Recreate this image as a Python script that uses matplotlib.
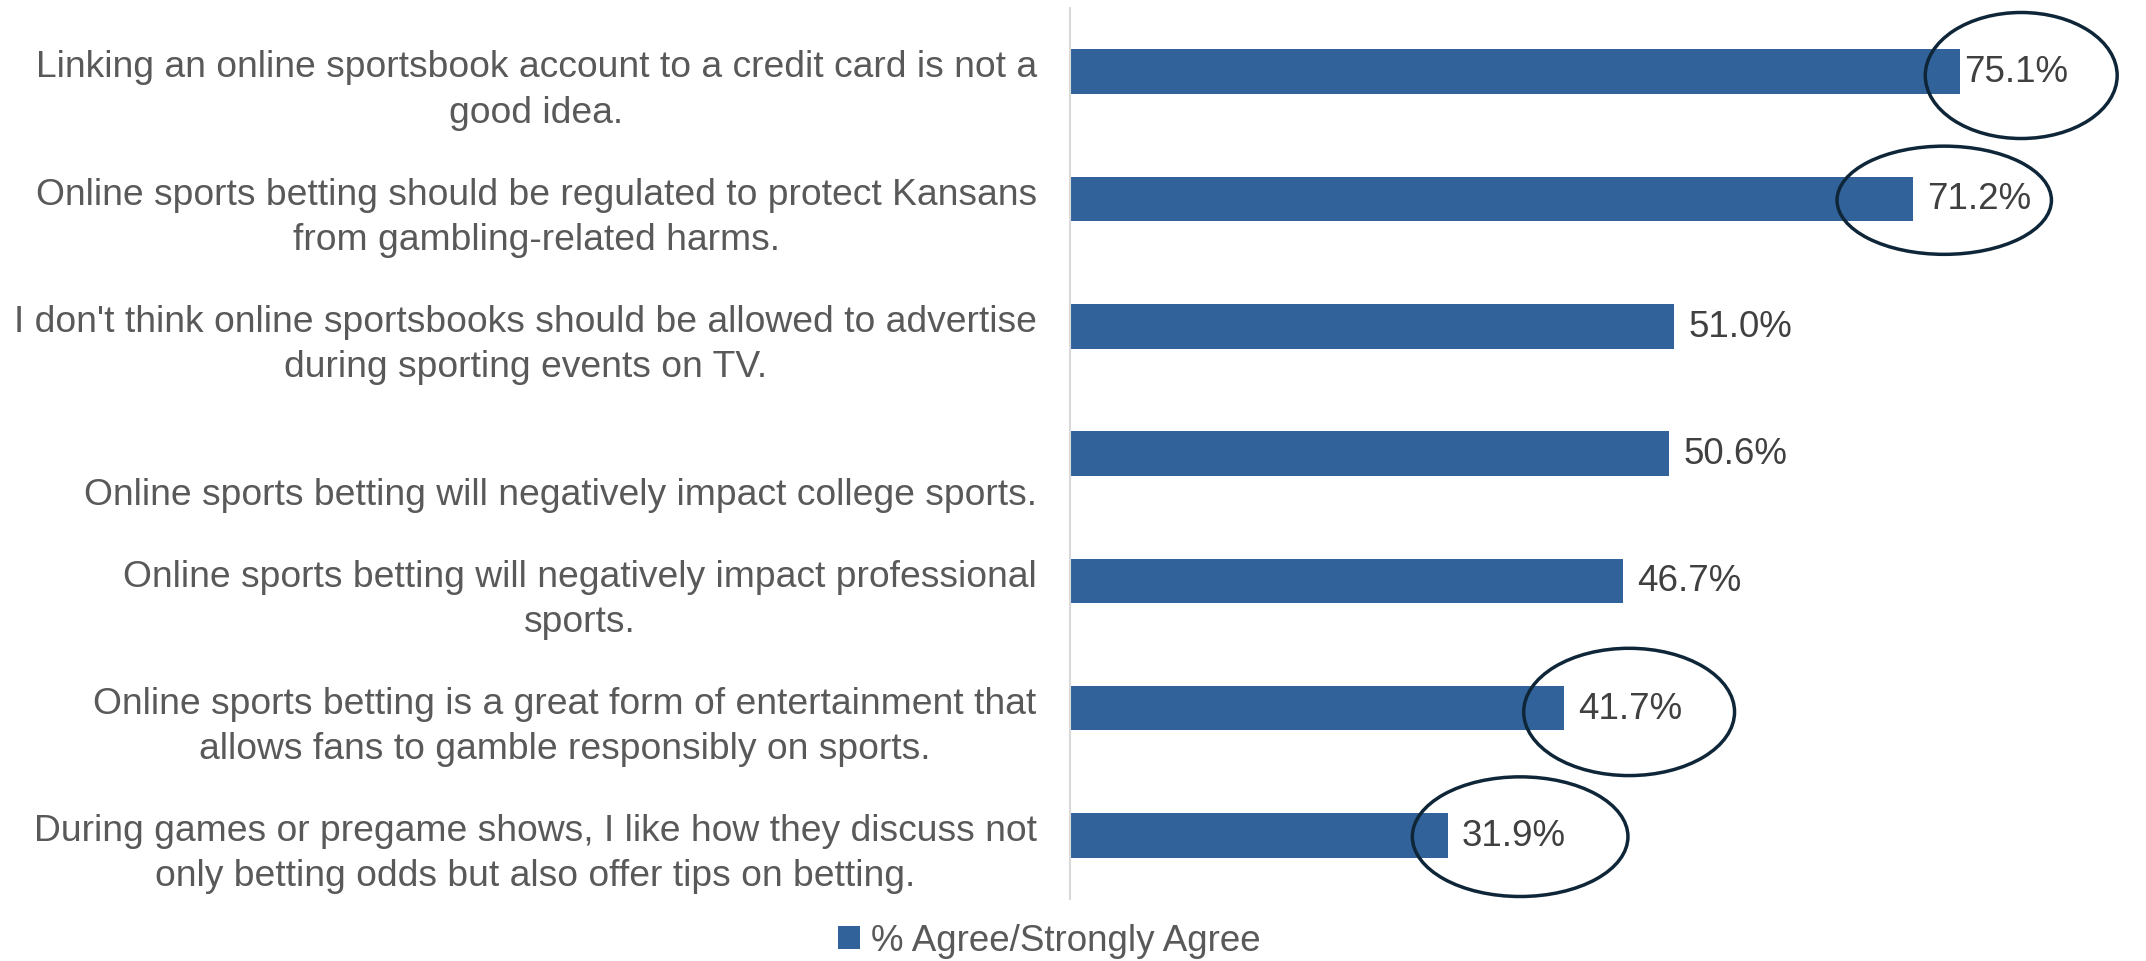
import matplotlib.pyplot as plt
from matplotlib.patches import Ellipse
from matplotlib.transforms import offset_copy

plt.rcParams['font.family'] = ['Liberation Sans', 'DejaVu Sans']

# data
statements = [
    "Linking an online sportsbook account to a credit card is not a\ngood idea.",
    "Online sports betting should be regulated to protect Kansans\nfrom gambling-related harms.",
    "I don't think online sportsbooks should be allowed to advertise\nduring sporting events on TV.",
    "Online sports betting will negatively impact college sports.",
    "Online sports betting will negatively impact professional\nsports.",
    "Online sports betting is a great form of entertainment that\nallows fans to gamble responsibly on sports.",
    "During games or pregame shows, I like how they discuss not\nonly betting odds but also offer tips on betting.",
]
agree = [75.1, 71.2, 51.0, 50.6, 46.7, 41.7, 31.9]
series_name = "% Agree/Strongly Agree"
circled = [0, 1, 5, 6]

bar_color = '#31639A'
label_color = '#595959'
value_color = '#404040'
circle_color = '#0E2638'

fig = plt.figure(figsize=(21.46, 9.62), dpi=100)
ax = fig.add_axes([0.4986, 0.0644, 0.4968, 0.9262])

y = list(range(len(agree)))
bars = ax.barh(y, agree, height=0.35, color=bar_color, label=series_name)
ax.set_xlim(0, 90)
ax.set_ylim(-0.5, len(agree) - 0.5)
ax.invert_yaxis()

for s in ['top', 'right', 'bottom']:
    ax.spines[s].set_visible(False)
ax.spines['left'].set_color('#D9D9D9')
ax.spines['left'].set_linewidth(1.5)
ax.set_xticks([])
ax.set_yticks([])

# category labels (Excel puts them a bit below the bar centre)
lab_tr = offset_copy(ax.get_yaxis_transform(), fig=fig, x=-24, y=0, units='points')
for i, txt in enumerate(statements):
    off = 0.14 if '\n' in txt else 0.32
    ax.text(0, i + off, txt, transform=lab_tr, ha='right', va='center',
            multialignment='center', fontsize=26.8, color=label_color,
            linespacing=1.38)

# value labels (the top one was nudged towards the bar)
pads = {0: 3}
for i, v in enumerate(agree):
    ax.annotate(f"{v:.1f}%", (v, i), xytext=(pads.get(i, 10), 0),
                textcoords='offset points', ha='left', va='center',
                fontsize=26.5, color=value_color)

# highlight ellipses
ell_dx = {0: 5.2, 1: 2.6, 5: 5.5, 6: 6.1}
ell_w = {0: 16.2, 1: 18.1, 5: 17.8, 6: 18.2}
ell_h = {0: 0.99, 1: 0.85, 5: 1.0, 6: 0.94}
ell_dy = {0: 0.03, 1: 0.01, 5: 0.03, 6: 0.01}
for i in circled:
    e = Ellipse((agree[i] + ell_dx[i], i + ell_dy[i]), ell_w[i], ell_h[i],
                fill=False, edgecolor=circle_color, linewidth=2.5, clip_on=False)
    ax.add_patch(e)

fig.legend(handles=[bars], labels=[series_name], loc='center',
           bbox_to_anchor=(0.489, 0.021), frameon=False, fontsize=26.5,
           handlelength=0.6, handleheight=0.6, handletextpad=0.3,
           labelcolor=label_color)

fig.savefig('out.png', dpi=100)
